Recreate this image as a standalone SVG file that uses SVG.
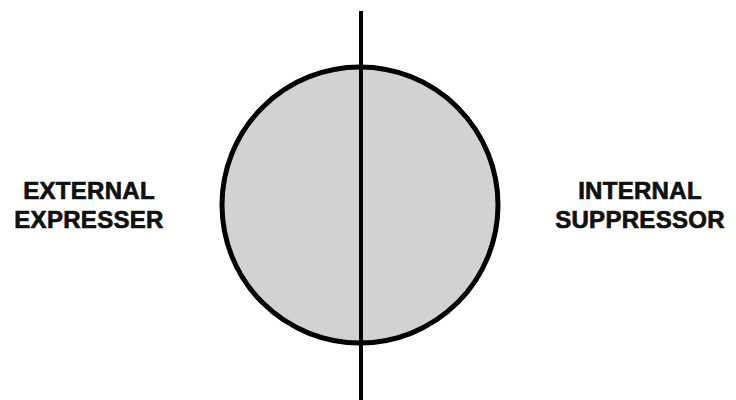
<svg xmlns="http://www.w3.org/2000/svg" width="736" height="400" viewBox="0 0 736 400">
<style>
.lbl{font-family:"Liberation Sans",Arial,sans-serif;font-weight:bold;font-size:24px;fill:#111;stroke:#111;stroke-width:0.7px;text-anchor:middle;letter-spacing:0.3px}
</style>
<rect width="736" height="400" fill="#fff"/>
<g id="circle">
<circle cx="360" cy="205" r="138" fill="#d1d2d4" stroke="#000" stroke-width="5"/>
</g>
<g id="connectors">
<line x1="361" y1="11" x2="361" y2="400" stroke="#000" stroke-width="4"/>
</g>
<g id="external">
<text class="lbl" x="89" y="199">EXTERNAL</text>
<text class="lbl" x="89" y="228">EXPRESSER</text>
</g>
<g id="internal">
<text class="lbl" x="640" y="199">INTERNAL</text>
<text class="lbl" x="640" y="228">SUPPRESSOR</text>
</g>
</svg>
